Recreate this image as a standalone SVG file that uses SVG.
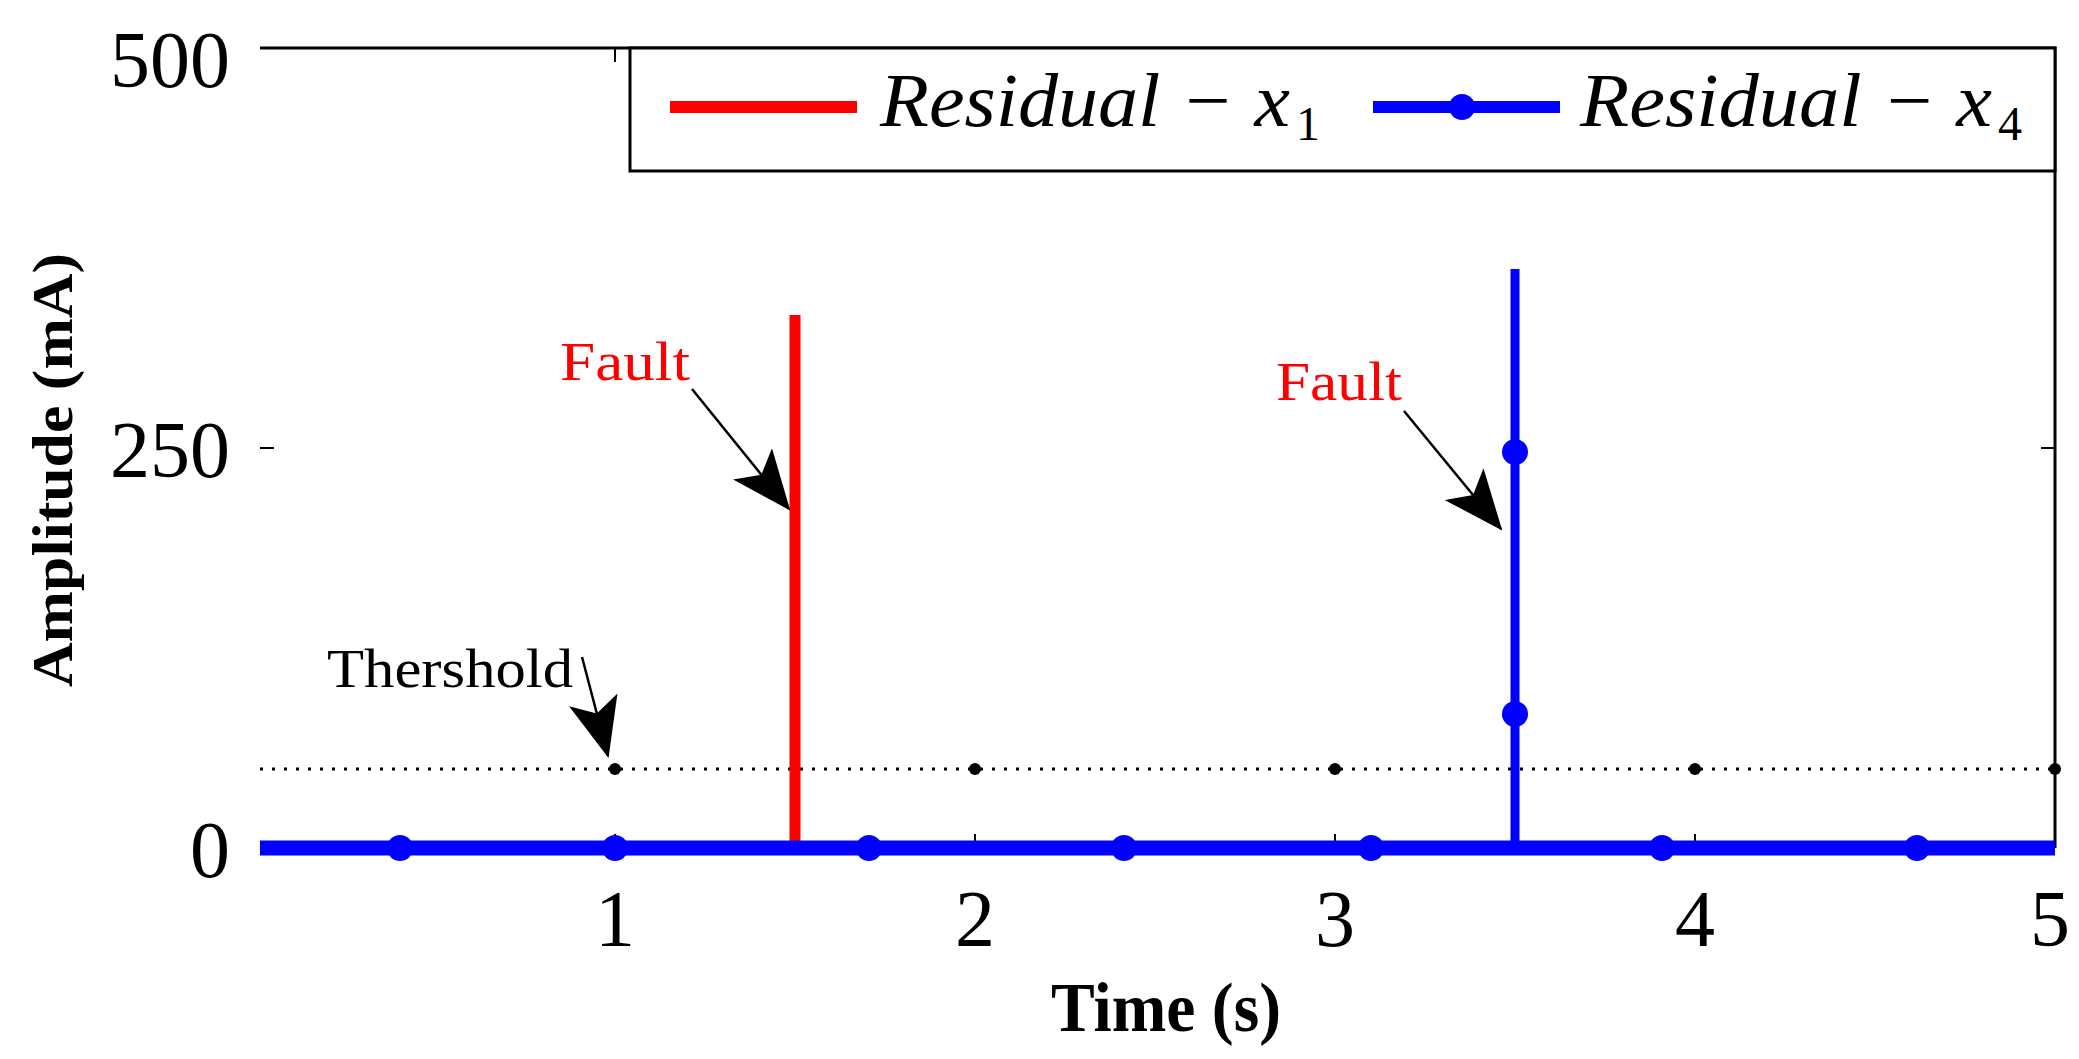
<svg xmlns="http://www.w3.org/2000/svg" width="2079" height="1059" viewBox="0 0 2079 1059">
<style>
.t{font-family:"Liberation Serif",serif;fill:#000}
.lg{font-family:"Liberation Serif",serif;font-style:italic;font-size:76px;fill:#000}
.sub{font-family:"Liberation Serif",serif;font-style:normal;font-size:48px;fill:#000}
.tick{stroke:#000;stroke-width:2}
</style>
<defs>
<marker id="bh" viewBox="0 0 60 50" refX="58" refY="25" markerWidth="60" markerHeight="50" orient="auto" markerUnits="userSpaceOnUse">
<path d="M0,0 L60,25 L0,50 L14,25 Z" fill="#000"/>
</marker>
</defs>
<rect width="2079" height="1059" fill="#fff"/>
<g id="axes">
<path d="M260,48 H2055 V848" fill="none" stroke="#000" stroke-width="3"/>
<path class="tick" d="M615,48 v14 M260,448 h14 M2055,448 h-14 M615,848 v-14 M975,848 v-14 M1335,848 v-14 M1695,848 v-14"/>
<text class="t" x="230" y="87" font-size="80" text-anchor="end">500</text>
<text class="t" x="230" y="477" font-size="80" text-anchor="end">250</text>
<text class="t" x="230" y="877" font-size="80" text-anchor="end">0</text>
<text class="t" x="615" y="946" font-size="80" text-anchor="middle">1</text>
<text class="t" x="975" y="946" font-size="80" text-anchor="middle">2</text>
<text class="t" x="1335" y="946" font-size="80" text-anchor="middle">3</text>
<text class="t" x="1695" y="946" font-size="80" text-anchor="middle">4</text>
<text class="t" x="2050" y="946" font-size="80" text-anchor="middle">5</text>
<text class="t" x="1166" y="1031" font-size="70" font-weight="bold" text-anchor="middle" textLength="230" lengthAdjust="spacingAndGlyphs">Time (s)</text>
<text class="t" transform="translate(72,470) rotate(-90)" font-size="56" font-weight="bold" text-anchor="middle" textLength="434" lengthAdjust="spacingAndGlyphs">Amplitude (mA)</text>
</g>
<g id="threshold">
<line x1="260" y1="769" x2="2055" y2="769" stroke="#000" stroke-width="3" stroke-dasharray="3,9"/>
<g fill="#000"><circle cx="615" cy="769" r="6"/><circle cx="975" cy="769" r="6"/><circle cx="1335" cy="769" r="6"/><circle cx="1695" cy="769" r="6"/><circle cx="2055" cy="769" r="6"/></g>
</g>
<g id="residual-x1">
<line x1="795" y1="848" x2="795" y2="315" stroke="#f00" stroke-width="11"/>
</g>
<g id="residual-x4" fill="#00f">
<line x1="260" y1="848" x2="2055" y2="848" stroke="#00f" stroke-width="15"/>
<line x1="1515" y1="848" x2="1515" y2="269" stroke="#00f" stroke-width="9"/>
<circle cx="400" cy="848" r="13"/><circle cx="615" cy="848" r="13"/><circle cx="869" cy="848" r="13"/><circle cx="1124" cy="848" r="13"/><circle cx="1371" cy="848" r="13"/><circle cx="1662" cy="848" r="13"/><circle cx="1917" cy="848" r="13"/>
<circle cx="1515" cy="452" r="13"/><circle cx="1515" cy="714" r="13"/>
</g>
<g id="labels">
<text class="t" x="327" y="687" font-size="54" textLength="246" lengthAdjust="spacingAndGlyphs">Thershold</text>
<text class="t" x="560" y="380" font-size="54" style="fill:#f00" textLength="130" lengthAdjust="spacingAndGlyphs">Fault</text>
<text class="t" x="1276" y="400" font-size="54" style="fill:#f00" textLength="126" lengthAdjust="spacingAndGlyphs">Fault</text>
</g>
<g id="connectors" stroke="#000" stroke-width="2.5" fill="none">
<line x1="582" y1="657" x2="608" y2="756" marker-end="url(#bh)"/>
<line x1="692" y1="389" x2="789" y2="509" marker-end="url(#bh)"/>
<line x1="1404" y1="411" x2="1501" y2="529" marker-end="url(#bh)"/>
</g>
<g id="legend">
<rect x="630" y="48" width="1425" height="123" fill="#fff" stroke="#000" stroke-width="3"/>
<line x1="670" y1="107" x2="857" y2="107" stroke="#f00" stroke-width="12"/>
<text class="lg" x="880" y="126" textLength="410" lengthAdjust="spacingAndGlyphs">Residual − x</text>
<text class="sub" x="1296" y="140">1</text>
<line x1="1373" y1="107" x2="1560" y2="107" stroke="#00f" stroke-width="12"/>
<circle cx="1462" cy="107" r="13" fill="#00f"/>
<text class="lg" x="1580" y="126" textLength="412" lengthAdjust="spacingAndGlyphs">Residual − x</text>
<text class="sub" x="1998" y="140">4</text>
</g>
</svg>
